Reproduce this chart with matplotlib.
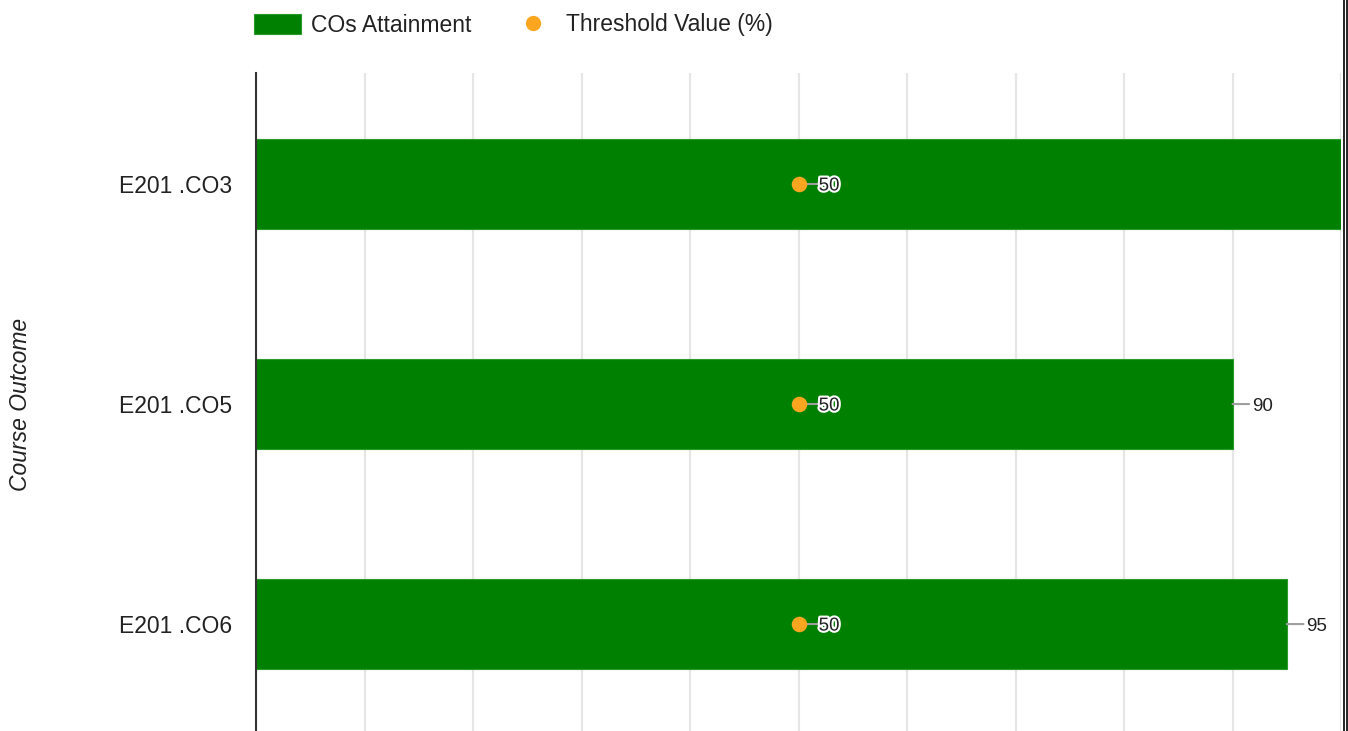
import matplotlib
matplotlib.use("Agg")
import matplotlib.pyplot as plt
from matplotlib.patches import Patch
from matplotlib.lines import Line2D
import matplotlib.patheffects as pe

categories = ["E201 .CO3", "E201 .CO5", "E201 .CO6"]
attainment = [100, 90, 95]
threshold = [50, 50, 50]
x_ticks = [0, 10, 20, 30, 40, 50, 60, 70, 80, 90, 100]

W, H = 1348, 731
plt.rcParams['font.family'] = ['Liberation Sans', 'DejaVu Sans']
fig = plt.figure(figsize=(W / 100, H / 100), dpi=100)
ax = fig.add_axes([256 / W, 0, (1341 - 256) / W, (H - 73) / H])

green = '#008000'
orange = '#fca61f'
ypos = list(range(len(categories)))
xmax = 100


def leader_label(x, y, text, line_pts, text_pts, halo):
    ax.annotate('', xy=(x, y), xytext=(line_pts, 0), textcoords='offset points',
                annotation_clip=False, zorder=3,
                arrowprops=dict(arrowstyle='-', color='#9e9e9e', lw=1.5, shrinkA=0, shrinkB=0))
    kw = {}
    if halo:
        kw['path_effects'] = [pe.withStroke(linewidth=3, foreground='white')]
    ax.annotate(text, xy=(x, y), xytext=(text_pts, 0), textcoords='offset points',
                ha='left', va='center_baseline', fontsize=13.5, color='#222222', zorder=4,
                annotation_clip=False, **kw)


ax.barh(ypos, attainment, height=0.41, color=green, edgecolor='#2a9a2a', linewidth=0.8, zorder=2)
ax.scatter(threshold, ypos, s=125, color=orange, zorder=5, linewidths=0)

for i, v in enumerate(threshold):
    leader_label(v, i, str(v), 14, 14.5, True)

for i, v in enumerate(attainment):
    if v >= xmax:
        continue  # label falls outside the visible chart area in the reference
    leader_label(v, i, str(v), 12, 14, False)

ax.set_xlim(0, xmax)
ax.set_ylim(2.486, -0.5045)
ax.set_xticks(x_ticks)
ax.set_yticks(ypos)
ax.set_yticklabels(categories, fontsize=16.5, color='#222222')
ax.tick_params(axis='y', length=0, pad=17)
ax.tick_params(axis='x', length=0, labelbottom=False)
ax.grid(axis='x', color='#e6e6e6', linewidth=1.6, zorder=0)
ax.set_axisbelow(True)
for s in ['top', 'right', 'bottom']:
    ax.spines[s].set_visible(False)
ax.spines['left'].set_color('#333333')
ax.spines['left'].set_linewidth(1.5)
ax.spines['left'].set_zorder(6)

fig.text(21 / W, 1 - 404 / H, 'Course Outcome', rotation=90, ha='center', va='center',
         fontsize=16.5, style='italic', color='#222222')

handles = [Patch(facecolor=green, edgecolor='#2a9a2a', linewidth=0.8),
           Line2D([], [], linestyle='none', marker='o', markersize=11, color=orange, markeredgewidth=0)]
leg = fig.legend(handles, ['COs Attainment', 'Threshold Value (%)'], loc='center left',
                 bbox_to_anchor=(254 / W, 1 - 25 / H), ncol=2, frameon=False, fontsize=16.5,
                 handlelength=2.05, handleheight=0.96, handletextpad=0.44, columnspacing=1.65,
                 borderpad=0, borderaxespad=0)
for t in leg.get_texts():
    t.set_color('#222222')

for xp in (1344, 1347):
    fig.add_artist(Line2D([xp / W, xp / W], [0, 1], color='black', linewidth=1.2,
                          transform=fig.transFigure))

fig.savefig('out.png', dpi=100)
